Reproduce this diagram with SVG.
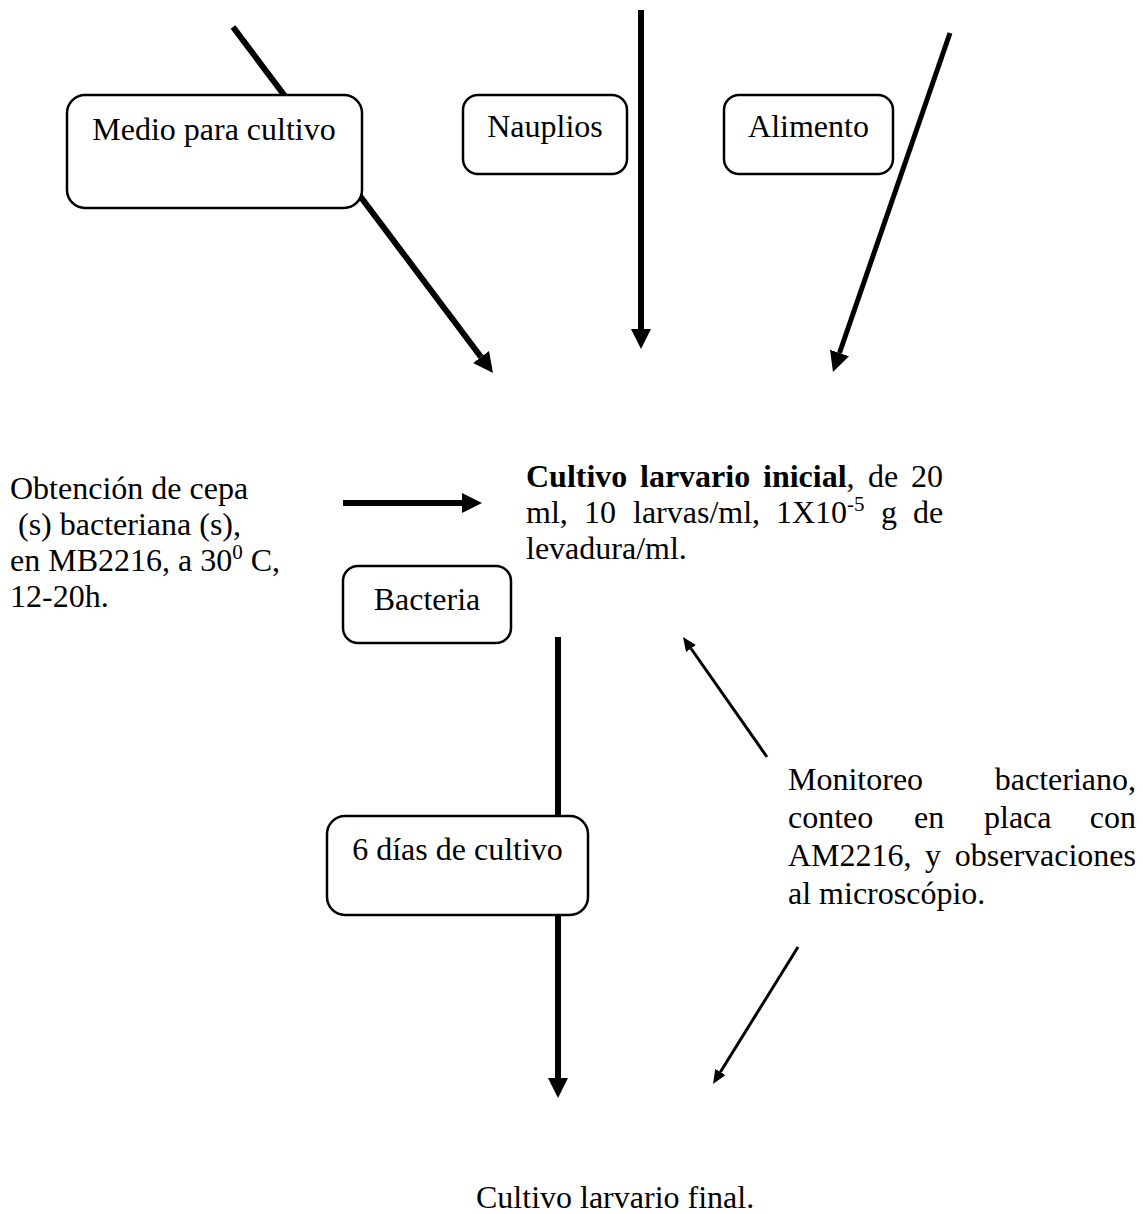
<svg xmlns="http://www.w3.org/2000/svg" width="1143" height="1214" viewBox="0 0 1143 1214">
  <style>
    text { font-family: "Liberation Serif", "Times New Roman", serif; font-size: 32px; fill: #000; }
    .b { font-weight: bold; }
    .sup { font-size: 21px; }
    .box { fill: #fff; stroke: #000; stroke-width: 2.5; }
    .thick { stroke: #000; stroke-width: 6; fill: none; marker-end: url(#headBig); }
    .thin { stroke: #000; stroke-width: 3; fill: none; marker-end: url(#headSmall); }
  </style>
  <defs>
    <marker id="headBig" markerUnits="userSpaceOnUse" markerWidth="20" markerHeight="20" refX="0" refY="10" orient="auto">
      <path d="M0,0 L20,10 L0,20 Z" fill="#000"/>
    </marker>
    <marker id="headSmall" markerUnits="userSpaceOnUse" markerWidth="14" markerHeight="12" refX="0" refY="6" orient="auto">
      <path d="M0,0 L14,6 L0,12 Z" fill="#000"/>
    </marker>
  </defs>
  <rect width="1143" height="1214" fill="#fff"/>

  <g id="connectors">
    <line class="thick" x1="233" y1="27" x2="481" y2="357"/>
    <line class="thick" x1="641" y1="10" x2="641" y2="329"/>
    <line class="thick" style="stroke-width:5" x1="950" y1="33" x2="839.5" y2="353"/>
    <line class="thick" x1="343" y1="503" x2="462" y2="503"/>
    <line class="thick" x1="558" y1="637" x2="558" y2="1078"/>
    <line class="thin" x1="767" y1="757" x2="691" y2="648.5"/>
    <line class="thin" x1="798" y1="947" x2="720.4" y2="1072"/>
  </g>

  <g id="medio">
    <rect class="box" x="67" y="95" width="295" height="113" rx="18"/>
    <text x="214" y="140" text-anchor="middle">Medio para cultivo</text>
  </g>
  <g id="nauplios">
    <rect class="box" x="463" y="95" width="164" height="79" rx="15"/>
    <text x="545" y="137" text-anchor="middle">Nauplios</text>
  </g>
  <g id="alimento">
    <rect class="box" x="724" y="95" width="169" height="79" rx="15"/>
    <text x="808.5" y="137" text-anchor="middle">Alimento</text>
  </g>

  <g id="obtencion">
    <text x="10" y="499">Obtención de cepa</text>
    <text x="18" y="535">(s) bacteriana (s),</text>
    <text x="10" y="571">en MB2216, a 30<tspan class="sup" dy="-12">0</tspan><tspan dy="12"> C,</tspan></text>
    <text x="10" y="607">12-20h.</text>
  </g>

  <g id="cultivo-inicial">
    <text y="487"><tspan class="b" x="526">Cultivo</tspan><tspan class="b" x="640">larvario</tspan><tspan class="b" x="763">inicial</tspan><tspan>,</tspan><tspan x="868">de</tspan><tspan x="911">20</tspan></text>
    <text y="523"><tspan x="526">ml,</tspan><tspan x="584">10</tspan><tspan x="633">larvas/ml,</tspan><tspan x="776">1X10</tspan><tspan class="sup" dy="-12">-5</tspan><tspan x="881" dy="12">g</tspan><tspan x="913">de</tspan></text>
    <text x="526" y="559">levadura/ml.</text>
  </g>

  <g id="bacteria">
    <rect class="box" x="343" y="566" width="168" height="77" rx="15"/>
    <text x="427" y="610" text-anchor="middle">Bacteria</text>
  </g>

  <g id="monitoreo">
    <text x="788" y="790">Monitoreo</text>
    <text x="1136" y="790" text-anchor="end">bacteriano,</text>
    <text y="828"><tspan x="788">conteo</tspan><tspan x="914">en</tspan><tspan x="984">placa</tspan></text>
    <text x="1136" y="828" text-anchor="end">con</text>
    <text y="866"><tspan x="788">AM2216,</tspan><tspan x="925">y</tspan></text>
    <text x="1136" y="866" text-anchor="end">observaciones</text>
    <text x="788" y="904">al microscópio.</text>
  </g>

  <g id="seis-dias">
    <rect class="box" x="327" y="816" width="261" height="99" rx="18"/>
    <text x="457.5" y="860" text-anchor="middle">6 días de cultivo</text>
  </g>

  <g id="cultivo-final">
    <text x="476" y="1208">Cultivo larvario final.</text>
  </g>
</svg>
